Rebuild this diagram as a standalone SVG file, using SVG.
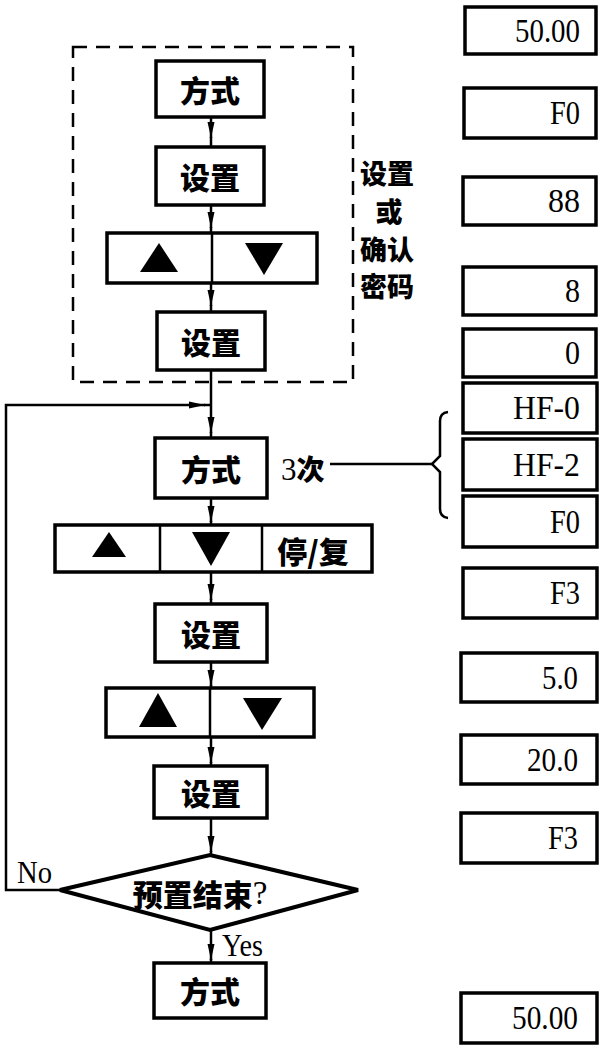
<svg xmlns="http://www.w3.org/2000/svg" width="604" height="1046" viewBox="0 0 604 1046">
<style>
.box{fill:#fff;stroke:#000;stroke-width:3.5}
.dash{fill:none;stroke:#000;stroke-width:2.5;stroke-dasharray:14 9}
.ln{fill:none;stroke:#000;stroke-width:2.5}
.tri{fill:#000}
.cjk{font-family:"Noto Sans CJK SC",sans-serif;font-weight:900;font-size:30px;text-anchor:middle;dominant-baseline:central;fill:#000}
.vt{font-family:"Noto Sans CJK SC",sans-serif;font-weight:900;font-size:27px;text-anchor:middle;dominant-baseline:central;fill:#000}
.num{font-family:"Liberation Serif",serif;font-size:34px;text-anchor:end;fill:#000}
.lat{font-family:"Liberation Serif",serif;font-size:31px;fill:#000}
</style>
<defs>
<marker id="ah" viewBox="0 0 16 8" refX="16" refY="4" markerWidth="16" markerHeight="8" orient="auto" markerUnits="userSpaceOnUse"><path d="M0,0.5 L16,4 L0,7.5 Z" fill="#000"/></marker>
</defs>
<rect id="group-password" class="dash" x="73" y="47" width="280" height="335"/>
<g id="connectors">
<path class="ln" d="M211,117 V138" marker-end="url(#ah)"/><path class="ln" d="M211,137 V147"/>
<path class="ln" d="M211,205 V228" marker-end="url(#ah)"/><path class="ln" d="M211,227 V233"/>
<path class="ln" d="M211,283 V306" marker-end="url(#ah)"/><path class="ln" d="M211,305 V312"/>
<path class="ln" d="M211,370 V433" marker-end="url(#ah)"/><path class="ln" d="M211,432 V438"/>
<path class="ln" d="M60,890 H6 V405 H205" marker-end="url(#ah)"/><path class="ln" d="M204,405 H211"/>
<path class="ln" d="M211,498 V522" marker-end="url(#ah)"/><path class="ln" d="M211,521 V525"/>
<path class="ln" d="M211,572 V600" marker-end="url(#ah)"/><path class="ln" d="M211,599 V604"/>
<path class="ln" d="M211,662 V686" marker-end="url(#ah)"/><path class="ln" d="M211,685 V688"/>
<path class="ln" d="M211,737 V763" marker-end="url(#ah)"/><path class="ln" d="M211,762 V766"/>
<path class="ln" d="M211,818 V852" marker-end="url(#ah)"/><path class="ln" d="M211,851 V855"/>
<path class="ln" d="M211,930 V960" marker-end="url(#ah)"/><path class="ln" d="M211,959 V963"/>
<path class="ln" d="M330,464 H432"/>
<path class="ln" d="M448,412 Q440,413 440,421 V456 L432,464 L440,472 V509 Q440,517 448,518"/>
</g>
<g id="n-mode1"><rect class="box" x="156" y="61" width="108" height="56"/><text class="cjk" x="210" y="89">方式</text></g>
<g id="n-set1"><rect class="box" x="156" y="147" width="108" height="58"/><text class="cjk" x="210" y="176">设置</text></g>
<g id="n-keys1"><rect class="box" x="107" y="233" width="210" height="50"/><line class="ln" x1="212" y1="233" x2="212" y2="283"/><polygon class="tri" points="140,272 159,243 178,272"/><polygon class="tri" points="245,243 283,243 264,275"/></g>
<g id="n-set2"><rect class="box" x="157" y="312" width="108" height="58"/><text class="cjk" x="211" y="341">设置</text></g>
<g id="label-pw"><text class="vt" x="387" y="172">设置</text><text class="vt" x="389" y="210">或</text><text class="vt" x="387" y="248">确认</text><text class="vt" x="387" y="285">密码</text></g>
<g id="n-mode2"><rect class="box" x="155" y="438" width="112" height="60"/><text class="cjk" x="211" y="468">方式</text></g>
<g id="label-3"><text x="281" y="480" font-family="Liberation Serif,serif" font-size="31" fill="#000">3<tspan font-family="Noto Sans CJK SC,sans-serif" font-weight="900" font-size="28">次</tspan></text></g>
<g id="n-keys2"><rect class="box" x="55" y="525" width="317" height="47"/><line class="ln" x1="160" y1="525" x2="160" y2="572"/><line class="ln" x1="262" y1="525" x2="262" y2="572"/><polygon class="tri" points="92,557 109,532 126,557"/><polygon class="tri" points="192,532 230,532 211,566"/><text class="cjk" x="313" y="550" font-size="27">停/复</text></g>
<g id="n-set3"><rect class="box" x="155" y="604" width="112" height="58"/><text class="cjk" x="211" y="633">设置</text></g>
<g id="n-keys3"><rect class="box" x="106" y="688" width="208" height="49"/><line class="ln" x1="210" y1="688" x2="210" y2="737"/><polygon class="tri" points="139,727 158,693 177,727"/><polygon class="tri" points="243,698 282,698 262,730"/></g>
<g id="n-set4"><rect class="box" x="154" y="766" width="113" height="52"/><text class="cjk" x="211" y="792">设置</text></g>
<g id="n-decision"><polygon points="60,890 210,855 358,890 210,930" fill="#fff" stroke="#000" stroke-width="4" stroke-linejoin="miter"/><text class="cjk" x="200" y="893">预置结束<tspan font-family="Liberation Serif,serif" font-weight="normal" font-size="33">?</tspan></text></g>
<g id="labels-yn"><text class="lat" x="17" y="883" textLength="35" lengthAdjust="spacingAndGlyphs">No</text><text class="lat" x="222" y="956" textLength="41" lengthAdjust="spacingAndGlyphs">Yes</text></g>
<g id="n-mode3"><rect class="box" x="154" y="963" width="112" height="55"/><text class="cjk" x="210" y="990">方式</text></g>
<g id="displays">
<g id="d1"><rect class="box" x="465" y="7" width="131" height="47"/><text class="num" x="580" y="42" textLength="65" lengthAdjust="spacingAndGlyphs">50.00</text></g>
<g id="d2"><rect class="box" x="464" y="88" width="132" height="50"/><text class="num" x="580" y="124" textLength="30" lengthAdjust="spacingAndGlyphs">F0</text></g>
<g id="d3"><rect class="box" x="463" y="177" width="133" height="48"/><text class="num" x="580" y="212" textLength="32" lengthAdjust="spacingAndGlyphs">88</text></g>
<g id="d4"><rect class="box" x="463" y="267" width="133" height="48"/><text class="num" x="580" y="302" textLength="15" lengthAdjust="spacingAndGlyphs">8</text></g>
<g id="d5"><rect class="box" x="463" y="329" width="133" height="48"/><text class="num" x="580" y="364" textLength="15" lengthAdjust="spacingAndGlyphs">0</text></g>
<g id="d6"><rect class="box" x="463" y="383" width="134" height="50"/><text class="num" x="580" y="419" textLength="67" lengthAdjust="spacingAndGlyphs">HF-0</text></g>
<g id="d7"><rect class="box" x="463" y="439" width="134" height="51"/><text class="num" x="580" y="476" textLength="67" lengthAdjust="spacingAndGlyphs">HF-2</text></g>
<g id="d8"><rect class="box" x="463" y="496" width="134" height="51"/><text class="num" x="580" y="533" textLength="30" lengthAdjust="spacingAndGlyphs">F0</text></g>
<g id="d9"><rect class="box" x="463" y="568" width="134" height="50"/><text class="num" x="580" y="604" textLength="30" lengthAdjust="spacingAndGlyphs">F3</text></g>
<g id="d10"><rect class="box" x="461" y="653" width="136" height="49"/><text class="num" x="578" y="689" textLength="36" lengthAdjust="spacingAndGlyphs">5.0</text></g>
<g id="d11"><rect class="box" x="461" y="735" width="136" height="49"/><text class="num" x="578" y="771" textLength="51" lengthAdjust="spacingAndGlyphs">20.0</text></g>
<g id="d12"><rect class="box" x="461" y="813" width="136" height="50"/><text class="num" x="578" y="849" textLength="30" lengthAdjust="spacingAndGlyphs">F3</text></g>
<g id="d13"><rect class="box" x="461" y="993" width="136" height="50"/><text class="num" x="578" y="1029" textLength="66" lengthAdjust="spacingAndGlyphs">50.00</text></g>
</g>
</svg>
